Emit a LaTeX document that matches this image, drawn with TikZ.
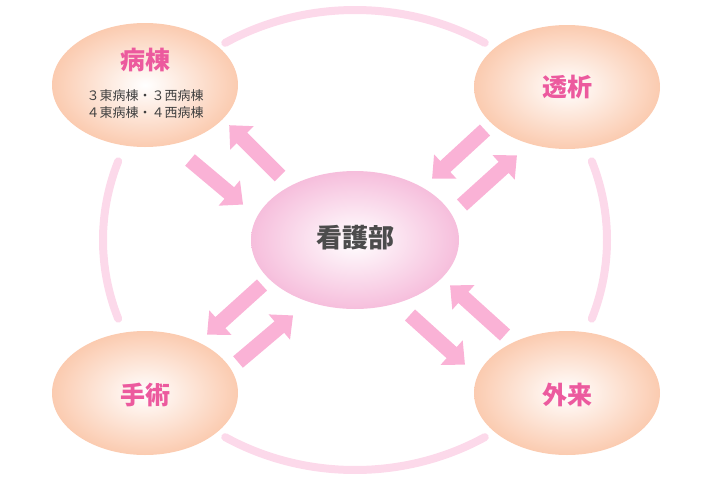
\documentclass[tikz,border=0pt]{standalone}
\usepackage{fontspec}
\newfontfamily\jp{Noto Sans CJK JP}
\usetikzlibrary{arrows.meta,shapes.geometric,shadows}
\definecolor{ring}{HTML}{FCD9EA}
\definecolor{arr}{HTML}{FAB2D6}
\definecolor{lbl}{HTML}{EC5A9E}
\definecolor{peach}{HTML}{FBCBB0}
\definecolor{pinkc}{HTML}{F6BEDC}
\tikzset{
 side/.style={ellipse,minimum width=186pt,minimum height=124pt,inner sep=0pt,shading=radial,inner color=white,outer color=peach},
 mid/.style={ellipse,minimum width=208pt,minimum height=138pt,inner sep=0pt,shading=radial,inner color=white,outer color=pinkc},
 ttl/.style={font=\jp\bfseries\fontsize{25}{27}\selectfont,text=lbl},
 sub/.style={font=\jp\fontsize{13}{17}\selectfont,text=black!75,align=center},
 blk/.style={arr,line width=15pt,-{Triangle[width=32pt,length=18pt]},shorten >=-4pt},
 rg/.style={ring,line width=8pt,line cap=round}
}
\begin{document}
\begin{tikzpicture}[x=1pt,y=-1pt]
\useasboundingbox (0,0) rectangle (710,480);
\coordinate (C) at (355,240);
% ring arcs
\draw[rg] (C) ++(121:252 and 230) arc[start angle=121,end angle=59,x radius=252,y radius=230];
\draw[rg] (C) ++(160:252 and 230) arc[start angle=160,end angle=200,x radius=252,y radius=230];
\draw[rg] (C) ++(20:252 and 230) arc[start angle=20,end angle=-20,x radius=252,y radius=230];
\draw[rg] (C) ++(-121:252 and 230) arc[start angle=-121,end angle=-59,x radius=252,y radius=230];
\node[side] (tl) at (145,85) {};
\node[side] (tr) at (567,87) {};
\node[side] (bl) at (145,393) {};
\node[side] (br) at (567,393) {};
\node[mid] (c) at (355,240) {};
\node[ttl] (tlt) at (145,60) {病棟};
\node[sub] (tls) at (145,104) {３東病棟・３西病棟\\４東病棟・４西病棟};
\node[ttl] (trt) at (567,87) {透析};
\node[ttl] (blt) at (145,395) {手術};
\node[ttl] (brt) at (567,395) {外来};
\node[font=\jp\bfseries\fontsize{26}{28}\selectfont,text=black!70] (ct) at (355,238) {看護部};
% arrows
\coordinate (a1) at (190,160); \coordinate (a2) at (240,202);
\coordinate (b1) at (280,176); \coordinate (b2) at (232,128);
\coordinate (c1) at (485,130); \coordinate (c2) at (435,176);
\coordinate (d1) at (462,205); \coordinate (d2) at (514,158);
\coordinate (e1) at (262,285); \coordinate (e2) at (210,332);
\coordinate (f1) at (238,362); \coordinate (f2) at (290,318);
\coordinate (g1) at (410,315); \coordinate (g2) at (462,362);
\coordinate (h1) at (505,335); \coordinate (h2) at (453,288);
\foreach \s/\t in {a1/a2,b1/b2,c1/c2,d1/d2,e1/e2,f1/f2,g1/g2,h1/h2}
  \draw[blk] (\s) -- (\t);
\end{tikzpicture}
\end{document}
